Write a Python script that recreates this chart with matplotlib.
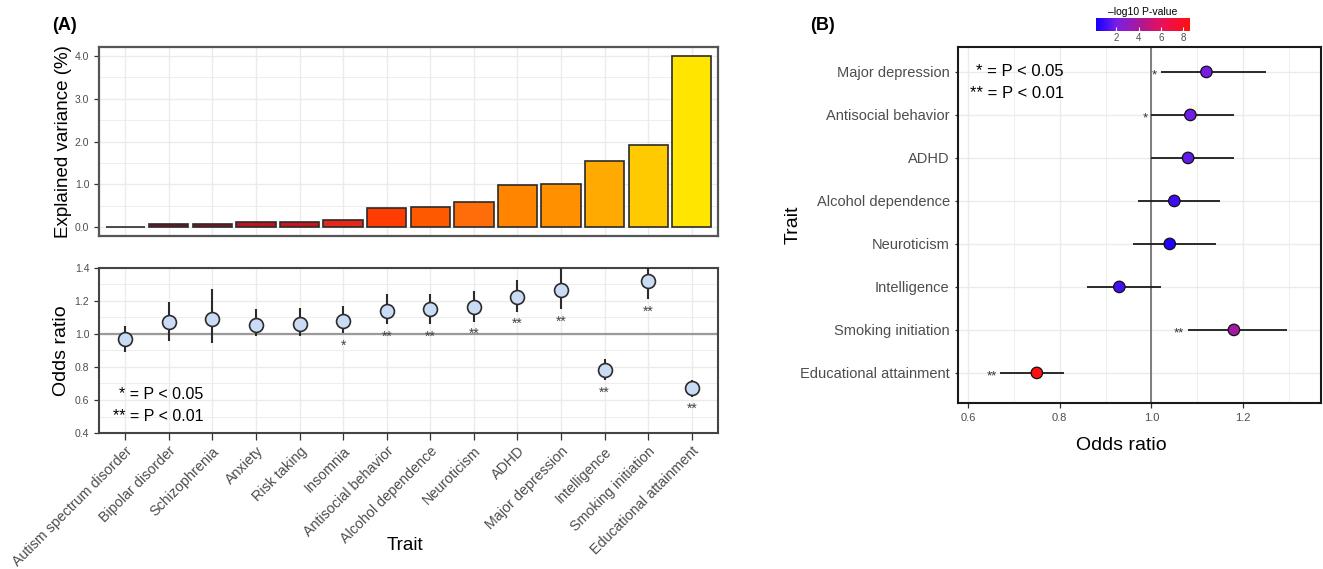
import numpy as np
import matplotlib
matplotlib.use('Agg')
import matplotlib.pyplot as plt
import matplotlib as mpl
from matplotlib.colors import LinearSegmentedColormap, Normalize
from matplotlib.ticker import MultipleLocator, FixedLocator

plt.rcParams['font.family'] = ['Liberation Sans', 'DejaVu Sans']

# ---- panel A data (order as plotted, left to right)
traits_a = ['Autism spectrum disorder', 'Bipolar disorder', 'Schizophrenia', 'Anxiety',
            'Risk taking', 'Insomnia', 'Antisocial behavior', 'Alcohol dependence',
            'Neuroticism', 'ADHD', 'Major depression', 'Intelligence',
            'Smoking initiation', 'Educational attainment']
explained_var = [0.02, 0.07, 0.07, 0.12, 0.12, 0.18, 0.46, 0.48, 0.58, 0.99, 1.02, 1.54, 1.91, 4.00]
or_a = [0.97, 1.07, 1.09, 1.055, 1.06, 1.08, 1.14, 1.15, 1.165, 1.225, 1.265, 0.78, 1.32, 0.67]
lo_a = [0.89, 0.955, 0.945, 0.99, 0.985, 1.005, 1.06, 1.06, 1.075, 1.135, 1.15, 0.72, 1.21, 0.62]
hi_a = [1.05, 1.195, 1.27, 1.15, 1.155, 1.17, 1.245, 1.245, 1.26, 1.325, 1.45, 0.85, 1.45, 0.72]
sig_a = ['', '', '', '', '', '*', '**', '**', '**', '**', '**', '**', '**', '**']

# ---- panel B data (top to bottom)
traits_b = ['Major depression', 'Antisocial behavior', 'ADHD', 'Alcohol dependence',
            'Neuroticism', 'Intelligence', 'Smoking initiation', 'Educational attainment']
or_b = [1.12, 1.085, 1.08, 1.05, 1.04, 0.93, 1.18, 0.75]
lo_b = [1.02, 1.00, 1.00, 0.97, 0.96, 0.86, 1.08, 0.67]
hi_b = [1.25, 1.18, 1.18, 1.15, 1.14, 1.02, 1.295, 0.81]
logp_b = [2.0, 1.9, 1.7, 1.0, 0.4, 1.1, 3.8, 8.6]
sig_b = ['*', '*', '', '', '', '', '**', '**']

W, H = 1323, 569
fig = plt.figure(figsize=(W / 100, H / 100), dpi=100)

GRID = '#ebebeb'
TXT = '#4d4d4d'
BORDER = '#333333'

heat = LinearSegmentedColormap.from_list('heat', [
    (0.0, '#1a1a1a'), (0.08, '#7a1224'), (0.16, '#86121f'), (0.24, '#c4141e'),
    (0.31, '#c8161e'), (0.39, '#e62a18'), (0.46, '#ff3c00'), (0.54, '#ff5a00'),
    (0.62, '#ff6e0c'), (0.69, '#ff8400'), (0.77, '#ff9000'), (0.85, '#ffab00'),
    (0.92, '#ffc800'), (1.0, '#ffe500')])
pcol = LinearSegmentedColormap.from_list('pcol', [
    (0.0, '#1400ff'), (0.22, '#7a1fe6'), (0.45, '#a8189c'), (0.7, '#e8105a'), (1.0, '#ff1010')])


def style_axes(ax, border=BORDER, lw=1.3):
    for s in ax.spines.values():
        s.set_color(border)
        s.set_linewidth(lw)
    ax.set_axisbelow(True)
    ax.tick_params(colors=BORDER, labelcolor=TXT, length=3.5, width=0.9)


x = np.arange(len(traits_a))

# ---- A top: explained variance bars
axA1 = fig.add_axes([99 / W, 1 - 236 / H, 619 / W, 189 / H])
style_axes(axA1, border='#555555', lw=1.6)
ranks = np.argsort(np.argsort(explained_var))
bar_cols = heat(ranks / (len(ranks) - 1))
axA1.bar(x, explained_var, width=0.9, color=bar_cols, edgecolor='#2b2b2b', linewidth=1.2, zorder=3)
axA1.set_xlim(-0.6, len(x) - 0.4)
axA1.set_ylim(-0.2, 4.2)
axA1.yaxis.set_major_locator(MultipleLocator(1))
axA1.yaxis.set_minor_locator(MultipleLocator(0.5))
axA1.yaxis.set_major_formatter(mpl.ticker.FormatStrFormatter('%.1f'))
axA1.set_xticks(x)
axA1.set_xticklabels([])
axA1.tick_params(axis='x', length=0)
axA1.tick_params(axis='y', which='minor', length=0)
axA1.tick_params(axis='y', labelsize=7.5)
axA1.grid(True, which='major', color=GRID, lw=1.0)
axA1.grid(True, which='minor', axis='y', color=GRID, lw=0.6)
axA1.set_ylabel('Explained variance (%)', fontsize=13.5)
axA1.yaxis.set_label_coords(-0.044, 0.5)

# ---- A bottom: odds ratios
axA2 = fig.add_axes([99 / W, 1 - 433 / H, 619 / W, 165 / H])
style_axes(axA2, border='#444444', lw=1.5)
axA2.axhline(1.0, color='#9a9a9a', lw=1.6, zorder=2)
axA2.vlines(x, lo_a, hi_a, color='#2b2b2b', lw=1.5, zorder=3)
axA2.plot(x, or_a, 'o', ms=10, mfc='#c9dbf5', mec='#2b2b2b', mew=1.2, zorder=4)
for xi, lo, s in zip(x, lo_a, sig_a):
    if s:
        axA2.text(xi, lo - 0.075, s, ha='center', va='center', fontsize=10, color='#444444')
axA2.set_xlim(-0.6, len(x) - 0.4)
axA2.set_ylim(0.4, 1.4)
axA2.yaxis.set_major_locator(MultipleLocator(0.2))
axA2.yaxis.set_minor_locator(MultipleLocator(0.1))
axA2.yaxis.set_major_formatter(mpl.ticker.FormatStrFormatter('%.1f'))
axA2.tick_params(axis='y', which='minor', length=0)
axA2.tick_params(axis='y', labelsize=7.5)
axA2.set_xticks(x)
axA2.set_xticklabels(traits_a, rotation=45, ha='right', rotation_mode='anchor', fontsize=10.3)
axA2.tick_params(axis='x', length=5, pad=3)
axA2.grid(True, which='major', color=GRID, lw=1.0)
axA2.grid(True, which='minor', axis='y', color=GRID, lw=0.6)
axA2.set_ylabel('Odds ratio', fontsize=14)
axA2.yaxis.set_label_coords(-0.047, 0.5)
axA2.set_xlabel('Trait', fontsize=13.5)
axA2.xaxis.set_label_coords(0.494, -0.63)
axA2.text(1.8, 0.635, '* = P < 0.05', ha='right', va='center', fontsize=11.5)
axA2.text(1.8, 0.50, '** = P < 0.01', ha='right', va='center', fontsize=11.5)

# ---- B: forest plot
yb = np.arange(len(traits_b))[::-1]
axB = fig.add_axes([958 / W, 1 - 403 / H, 363 / W, 356 / H])
style_axes(axB, border='#1a1a1a', lw=1.5)
norm = Normalize(vmin=0.2, vmax=8.6)
axB.axvline(1.0, color='#6a6a6a', lw=1.2, zorder=2)
axB.hlines(yb, lo_b, hi_b, color='#1a1a1a', lw=1.3, zorder=3)
axB.scatter(or_b, yb, s=68, c=logp_b, cmap=pcol, norm=norm, edgecolors='#111111',
            linewidths=0.9, zorder=4)
for yi, lo, s in zip(yb, lo_b, sig_b):
    if s:
        axB.text(lo - 0.008, yi - 0.09, s, ha='right', va='center', fontsize=9.5, color='#333333')
axB.set_xlim(0.578, 1.37)
axB.set_ylim(-0.7, len(traits_b) - 0.42)
axB.xaxis.set_major_locator(FixedLocator([0.6, 0.8, 1.0, 1.2]))
axB.xaxis.set_minor_locator(FixedLocator([0.7, 0.9, 1.1, 1.3]))
axB.xaxis.set_major_formatter(mpl.ticker.FormatStrFormatter('%.1f'))
axB.tick_params(axis='x', which='minor', length=0)
axB.tick_params(axis='x', labelsize=8)
axB.set_yticks(yb)
axB.set_yticklabels(traits_b, fontsize=10.5)
axB.tick_params(axis='y', length=2.5)
axB.grid(True, which='major', color=GRID, lw=1.0)
axB.grid(True, which='minor', axis='x', color=GRID, lw=0.6)
axB.set_ylabel('Trait', fontsize=14)
axB.yaxis.set_label_coords(-0.432, 0.5)
axB.set_xlabel('Odds ratio', fontsize=14)
axB.xaxis.set_label_coords(0.45, -0.096)
axB.text(0.809, 7.0, '* = P < 0.05', ha='right', va='center', fontsize=12)
axB.text(0.809, 6.5, '** = P < 0.01', ha='right', va='center', fontsize=12)

# colour bar for -log10 P
cax = fig.add_axes([1096 / W, 1 - 31 / H, 94 / W, 13 / H])
cb = fig.colorbar(mpl.cm.ScalarMappable(norm=norm, cmap=pcol), cax=cax, orientation='horizontal')
cb.set_ticks([2, 4, 6, 8])
cb.outline.set_visible(False)
cax.tick_params(axis='x', colors='white', labelcolor=TXT, labelsize=7, length=3, width=0.8,
                direction='in', pad=1.5)
cax.set_title('\u2013log10 P-value', fontsize=7.5, pad=2)

# panel tags
fig.text(52 / W, 1 - 25 / H, '(A)', fontsize=13, fontweight='bold', va='center')
fig.text(810 / W, 1 - 25 / H, '(B)', fontsize=13, fontweight='bold', va='center')

fig.savefig('out.png', dpi=100, facecolor='white')
